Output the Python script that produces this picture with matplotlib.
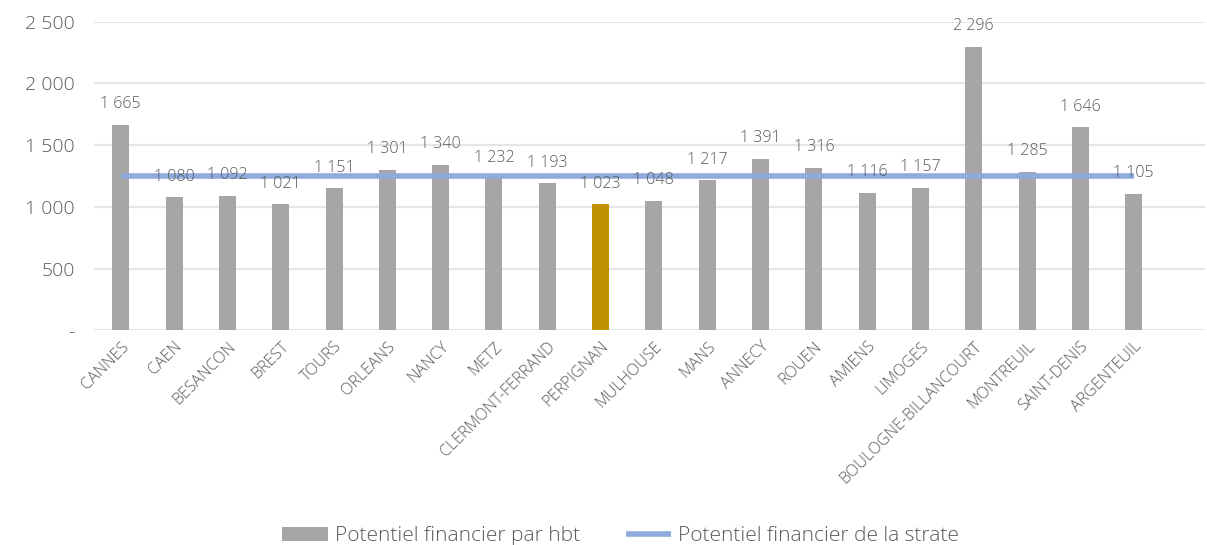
import matplotlib
matplotlib.use("Agg")
import matplotlib.pyplot as plt
from matplotlib.ticker import FuncFormatter

categories = ["CANNES", "CAEN", "BESANCON", "BREST", "TOURS", "ORLEANS", "NANCY", "METZ",
              "CLERMONT-FERRAND", "PERPIGNAN", "MULHOUSE", "MANS", "ANNECY", "ROUEN",
              "AMIENS", "LIMOGES", "BOULOGNE-BILLANCOURT", "MONTREUIL", "SAINT-DENIS", "ARGENTEUIL"]
values = [1665, 1080, 1092, 1021, 1151, 1301, 1340, 1232, 1193, 1023, 1048, 1217, 1391, 1316,
          1116, 1157, 2296, 1285, 1646, 1105]
strate = [1250] * len(categories)
highlight = "PERPIGNAN"

def fmt(v):
    return f"{int(round(v)):,}".replace(",", " ")

plt.rcParams['font.family'] = ['Open Sans', 'DejaVu Sans']
plt.rcParams['font.weight'] = 'light'
fig = plt.figure(figsize=(12.07, 5.45), dpi=100)
ax = fig.add_axes([0.078, 0.394, 0.92, 0.566])

x = list(range(len(categories)))
colors = ["#BF9000" if c == highlight else "#A6A6A6" for c in categories]
ax.bar(x, values, width=0.32, color=colors, zorder=2, label="Potentiel financier par hbt")
ax.plot(x, strate, color="#8FAADC", linewidth=4, zorder=3, label="Potentiel financier de la strate",
        solid_capstyle="butt")

for xi, v in zip(x, values):
    ax.annotate(fmt(v), (xi, v), xytext=(0, 9), textcoords="offset points",
                ha="center", va="bottom", fontsize=11.5, color="#595959")

ax.set_ylim(0, 2500)
ax.set_xlim(-0.5, 20.33)
ax.set_yticks([0, 500, 1000, 1500, 2000, 2500])
ax.yaxis.set_major_formatter(FuncFormatter(lambda v, p: "-" if v == 0 else fmt(v)))
ax.tick_params(axis="y", length=0, labelsize=14, labelcolor="#595959", pad=14)
ax.tick_params(axis="x", length=0, labelsize=11.5, labelcolor="#595959", pad=6)
ax.set_xticks(x)
ax.set_xticklabels(categories, rotation=45, ha="right", rotation_mode="anchor")
ax.grid(axis="y", color="#E3E6EC", linewidth=1.5, zorder=0)
for s in ax.spines.values():
    s.set_visible(False)

h, l = ax.get_legend_handles_labels()
order = [1, 0] if l[0] != "Potentiel financier par hbt" else [0, 1]
ax.legend([h[i] for i in order], [l[i] for i in order],
          loc="center", bbox_to_anchor=(0.474, -0.668), ncol=2, frameon=False,
          fontsize=15, labelcolor="#595959", handlelength=2.2, handletextpad=0.3,
          columnspacing=2.2)
fig.savefig("out.png", dpi=100)
